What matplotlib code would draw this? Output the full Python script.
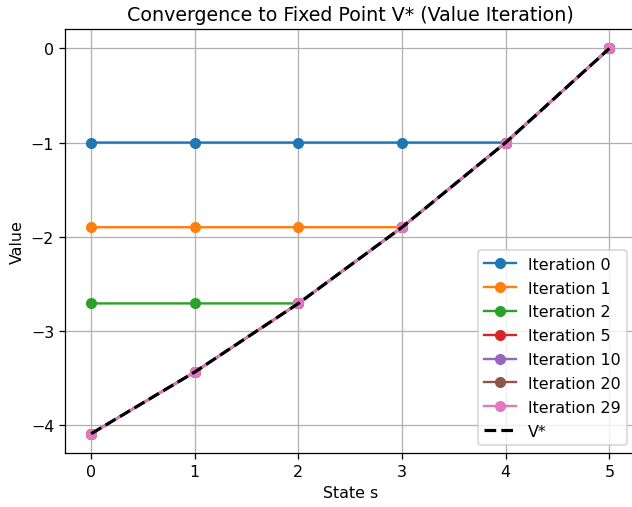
import matplotlib
matplotlib.use("Agg")
import matplotlib.pyplot as plt

states = [0, 1, 2, 3, 4, 5]

# value estimates per iteration
iter_labels = ["Iteration 0", "Iteration 1", "Iteration 2", "Iteration 5",
               "Iteration 10", "Iteration 20", "Iteration 29"]
v_iter0 = [-1.0, -1.0, -1.0, -1.0, -1.0, 0.0]
v_iter1 = [-1.9, -1.9, -1.9, -1.9, -1.0, 0.0]
v_iter2 = [-2.71, -2.71, -2.71, -1.9, -1.0, 0.0]
v_iter5 = [-4.0951, -3.439, -2.71, -1.9, -1.0, 0.0]
v_iter10 = [-4.0951, -3.439, -2.71, -1.9, -1.0, 0.0]
v_iter20 = [-4.0951, -3.439, -2.71, -1.9, -1.0, 0.0]
v_iter29 = [-4.0951, -3.439, -2.71, -1.9, -1.0, 0.0]
v_star = [-4.0951, -3.439, -2.71, -1.9, -1.0, 0.0]

DPI = 114
fig = plt.figure(figsize=(632 / DPI, 508 / DPI), dpi=DPI)
ax = fig.add_axes([0.1032, 0.1063, 0.902, 0.8343])

for label, v in zip(iter_labels, [v_iter0, v_iter1, v_iter2, v_iter5,
                                  v_iter10, v_iter20, v_iter29]):
    ax.plot(states, v, marker="o", label=label)
ax.plot(states, v_star, "k--", linewidth=2, label="V*")

ax.set_title("Convergence to Fixed Point V* (Value Iteration)")
ax.set_xlabel("State s")
ax.set_ylabel("Value")
ax.grid(True)
ax.legend(labelspacing=0.56)
fig.savefig("out.png", dpi=DPI)
